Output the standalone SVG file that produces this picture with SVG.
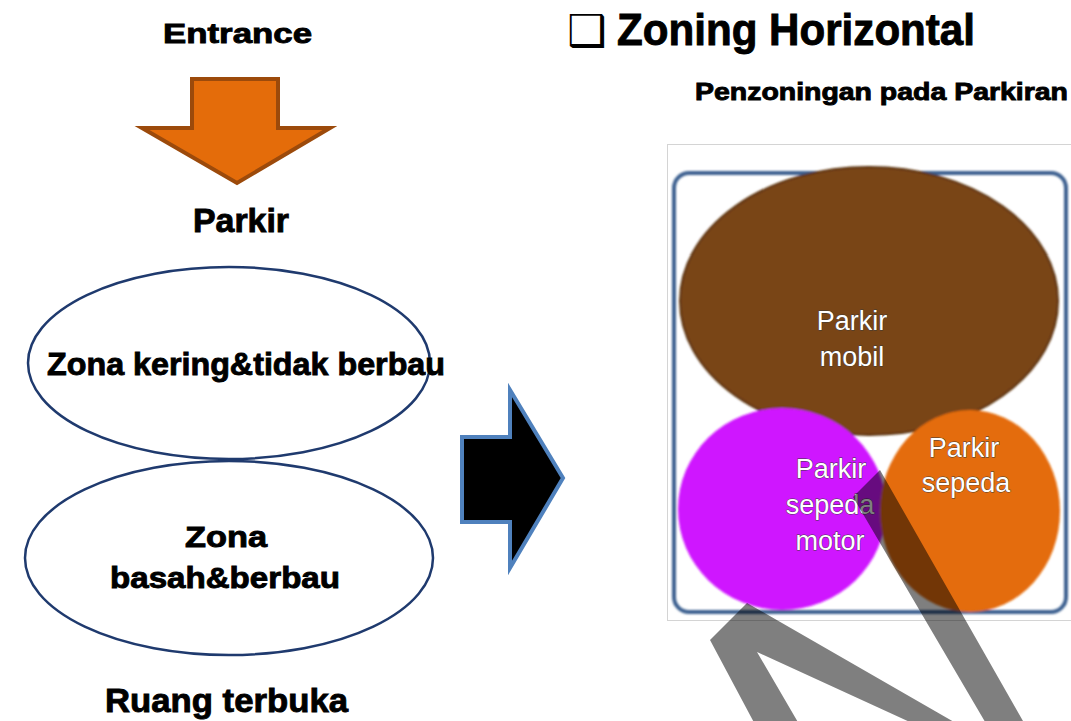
<svg xmlns="http://www.w3.org/2000/svg" width="1071" height="721" viewBox="0 0 1071 721">
  <defs>
    <style>
      .lbl { font-family: "Liberation Sans", Arial, sans-serif; font-weight: bold; fill: #000; stroke: #000; stroke-width: 0.9; }
      .zone { fill: #fff; stroke: #1f3a6e; stroke-width: 2.5; }
      .inner { font-family: "Liberation Sans", Arial, sans-serif; font-size: 27px; fill: #fff; stroke: #3a3a3a; stroke-width: 0.8; paint-order: stroke; text-anchor: middle; }
    </style>
    <filter id="soft" x="-5%" y="-5%" width="110%" height="110%">
      <feGaussianBlur stdDeviation="0.9"/>
    </filter>
  </defs>

  <rect width="1071" height="721" fill="#fff"/>

  <!-- left column: entrance flow -->
  <g id="entrance">
    <text class="lbl" x="163" y="43" font-size="28" textLength="149" lengthAdjust="spacingAndGlyphs">Entrance</text>
  </g>

  <g id="connectors">
    <!-- down arrow from entrance to parking -->
    <polygon points="192,79 278,79 278,128 330,128 237,183 142,128 192,128" fill="#e46c0a" stroke="#9c4a0b" stroke-width="4" stroke-linejoin="miter"/>
    <!-- right arrow to the horizontal zoning panel -->
    <polygon points="462,437 510,437 510,390 563,478 510,568 510,522 462,522" fill="#000" stroke="#4f81bd" stroke-width="4"/>
  </g>

  <g id="parkir">
    <text class="lbl" x="193" y="232" font-size="34" textLength="96" lengthAdjust="spacingAndGlyphs">Parkir</text>
  </g>

  <g id="zona-kering">
    <ellipse class="zone" cx="229" cy="363" rx="201" ry="96"/>
    <text class="lbl" x="47" y="375" font-size="32" textLength="398" lengthAdjust="spacingAndGlyphs">Zona kering&amp;tidak berbau</text>
  </g>

  <g id="zona-basah">
    <ellipse class="zone" cx="229" cy="558" rx="204" ry="97"/>
    <text class="lbl" x="185" y="547" font-size="30" textLength="82" lengthAdjust="spacingAndGlyphs">Zona</text>
    <text class="lbl" x="110" y="588" font-size="30" textLength="230" lengthAdjust="spacingAndGlyphs">basah&amp;berbau</text>
  </g>

  <g id="ruang-terbuka">
    <text class="lbl" x="105" y="712" font-size="34" textLength="243" lengthAdjust="spacingAndGlyphs">Ruang terbuka</text>
  </g>

  <!-- right column: heading -->
  <g id="title">
    <text x="567" y="46" font-family="DejaVu Sans, sans-serif" font-size="44" fill="#000">❑</text>
    <text class="lbl" x="617" y="45" font-size="44" textLength="358" lengthAdjust="spacingAndGlyphs">Zoning Horizontal</text>
    <text class="lbl" x="695" y="100" font-size="24" stroke-width="0.6" textLength="373" lengthAdjust="spacingAndGlyphs">Penzoningan pada Parkiran</text>
  </g>

  <!-- parking zoning plan -->
  <g id="plan">
    <rect x="667.5" y="144.5" width="420" height="476" fill="#fff" stroke="#d4d4d4" stroke-width="1"/>
    <g filter="url(#soft)">
      <rect x="674" y="173" width="392" height="439" rx="15" fill="none" stroke="#3c6190" stroke-width="4"/>
      <ellipse cx="869" cy="301" rx="189" ry="134" fill="#794417" stroke="#5a3110" stroke-width="2"/>
      <ellipse cx="782" cy="509" rx="104" ry="101" fill="#cf14ff"/>
      <ellipse cx="970" cy="511" rx="90" ry="101" fill="#e46c0a"/>
    </g>
    <g id="parkir-mobil">
      <text class="inner" x="852" y="330">Parkir</text>
      <text class="inner" x="852" y="366">mobil</text>
    </g>
    <g id="parkir-motor">
      <text class="inner" x="831" y="478">Parkir</text>
      <text class="inner" x="830" y="514">sepeda</text>
      <text class="inner" x="830" y="550">motor</text>
    </g>
    <g id="parkir-sepeda">
      <text class="inner" x="964" y="457">Parkir</text>
      <text class="inner" x="966" y="492">sepeda</text>
    </g>
  </g>

  <!-- translucent zigzag band across the lower right -->
  <path d="M774,760 L710,640 L747,603 L1001,749 L853,497 L880,470 L1068,800 L960,745 L757,652 L820,760 Z" fill="#000" fill-opacity="0.5"/>
</svg>
